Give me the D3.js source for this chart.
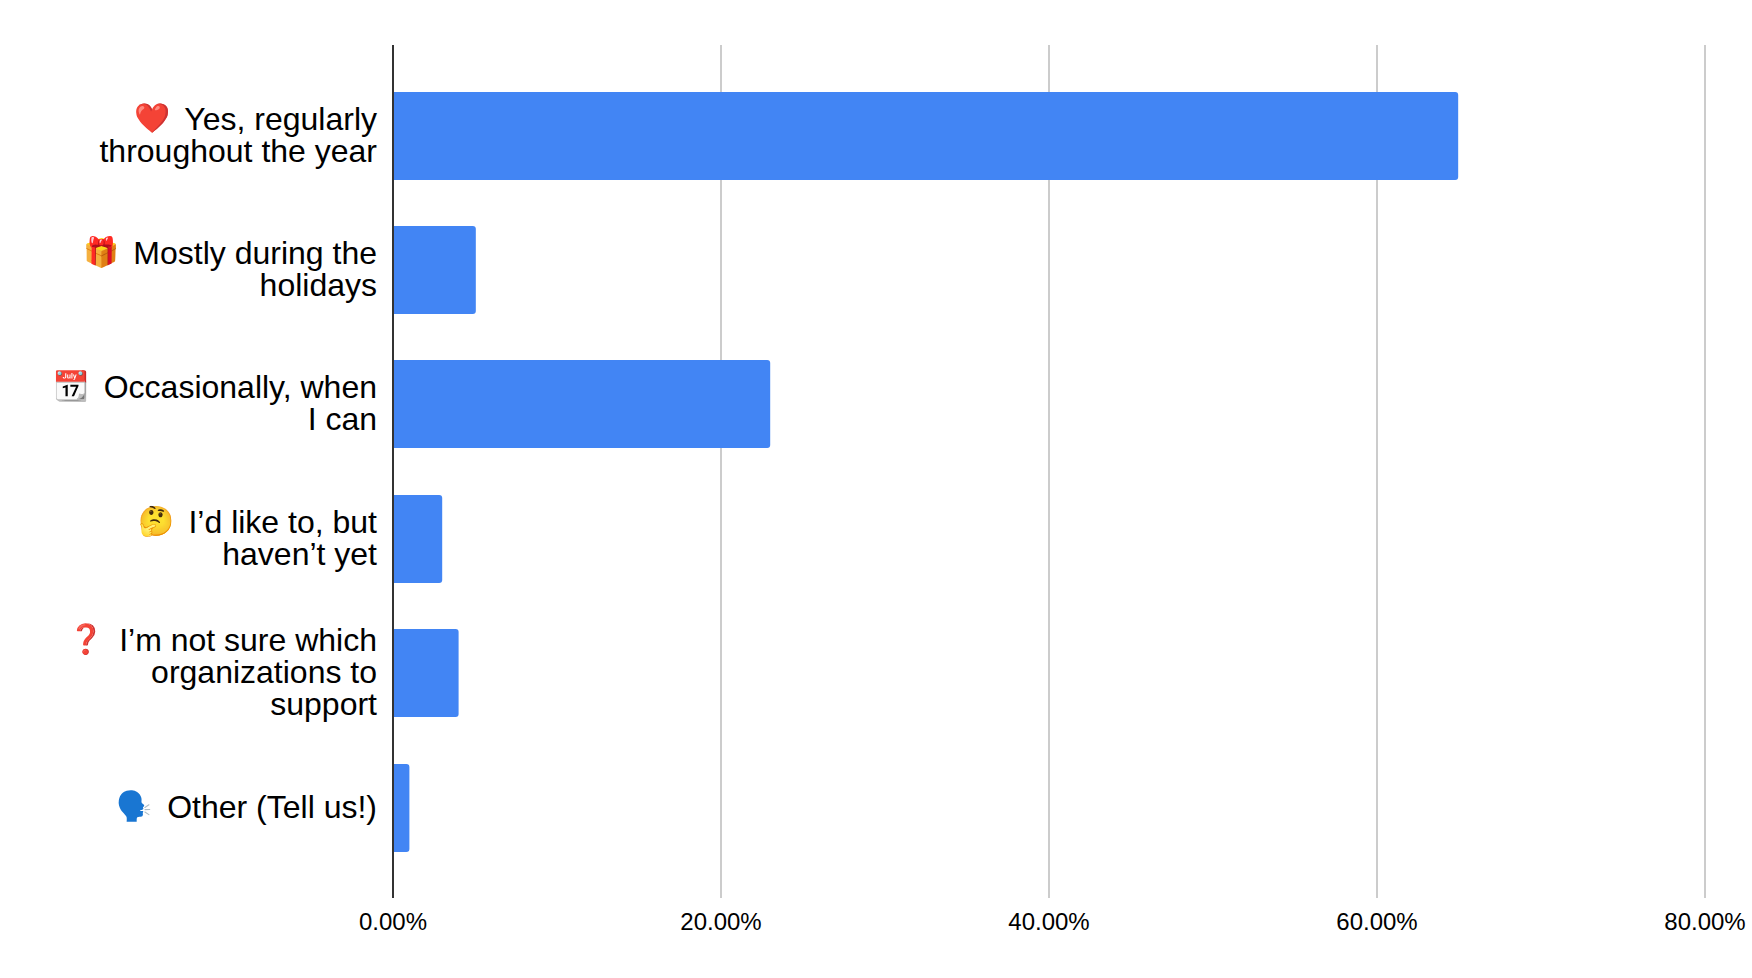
<!DOCTYPE html>
<html><head><meta charset="utf-8">
<style>html,body{margin:0;padding:0;background:#fff}svg{display:block}text{font-family:"Liberation Sans",Arial,sans-serif;fill:#000}</style>
<script src="https://cdnjs.cloudflare.com/ajax/libs/d3/7.8.5/d3.min.js"></script>
</head><body><svg id="c" width="1752" height="978"></svg>
<script>
const categories = ["yes","holidays","occasionally","like","unsure","other"];
const emojis = ["❤️","🎁","📆","🤔","❓","🗣️"];
const labelLines = [
  ["Yes, regularly","throughout the year"],
  ["Mostly during the","holidays"],
  ["Occasionally, when","I can"],
  ["I’d like to, but","haven’t yet"],
  ["I’m not sure which","organizations to","support"],
  ["Other (Tell us!)"]
];
const values = [64.95,5.05,23,3,4,1];
const xTicks = [0,20,40,60,80];

const svg = d3.select("#c");
const x = d3.scaleLinear().domain([0,80]).range([393,1705]);
const y = d3.scaleBand().domain(categories).range([45.5,898.5]).paddingInner(0.345).paddingOuter(0.346);

const xAxis = d3.axisBottom(x).tickValues(xTicks).tickFormat(d=>d.toFixed(2)+"%").tickSize(0).tickPadding(0);
const gx = svg.append("g").attr("transform","translate(-0.5,898)").call(xAxis);
gx.select(".domain").remove();
gx.selectAll("text").attr("y",32).attr("dy",0).style("font-size","24px").style("font-family",'"Liberation Sans"').attr("fill","#000");

svg.append("g").selectAll("line").data(xTicks.slice(1)).join("line")
 .attr("x1",d=>x(d)).attr("x2",d=>x(d)).attr("y1",45).attr("y2",898)
 .attr("stroke","#ccc").attr("stroke-width",2);

const r=3;
svg.append("g").selectAll("path").data(values).join("path")
 .attr("fill","#4285F4")
 .attr("d",(d,i)=>{
   const p=d3.path(), x0=x(0), x1=x(d), y0=Math.round(y(categories[i])-0.4), y1=y0+Math.round(y.bandwidth());
   p.moveTo(x0,y0); p.lineTo(x1-r,y0); p.quadraticCurveTo(x1,y0,x1,y0+r);
   p.lineTo(x1,y1-r); p.quadraticCurveTo(x1,y1,x1-r,y1); p.lineTo(x0,y1); p.closePath();
   return p.toString();
 });

svg.append("line").attr("x1",x(0)).attr("x2",x(0)).attr("y1",45).attr("y2",898).attr("stroke","#333").attr("stroke-width",2);

const lh=32.2;
const lab = svg.append("g").selectAll("text").data(categories).join("text")
 .attr("text-anchor","end").style("font-size","32px")
 .attr("y",(c,i)=>Math.round(y(c)+y.bandwidth()/2+9.7-(labelLines[i].length-1)*lh/2));
lab.each(function(c,i){
  const t=d3.select(this);
  labelLines[i].forEach((l,j)=>{
    const s=t.append("tspan").attr("x",377).attr("dy",j?lh:0);
    if(j===0){
      s.append("tspan").attr("dy",-2).style("font-size","29px").text(emojis[i]);
      s.append("tspan").attr("dy",2).attr("dx",-3).style("white-space","pre").text("  "+l);
    }
    else s.text(l);
  });
});
</script></body></html>
